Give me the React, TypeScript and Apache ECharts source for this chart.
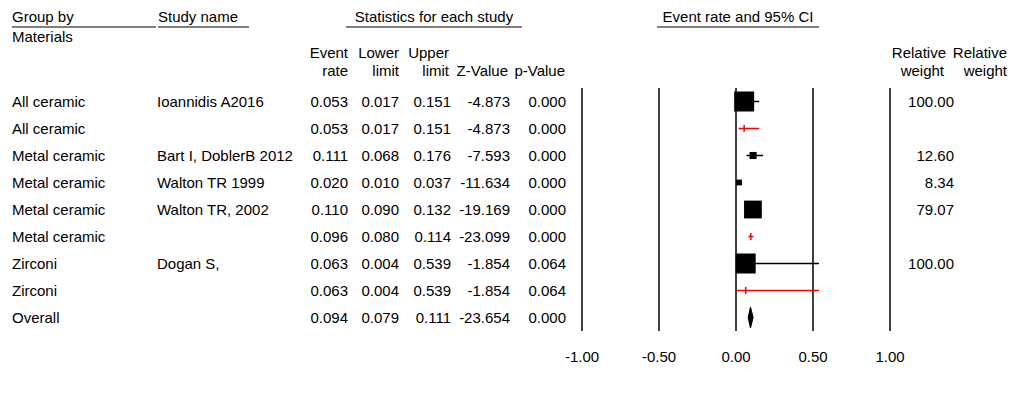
import React, { useEffect, useRef } from "react";
import * as echarts from "echarts";

// ---- data ----
const groups = ["All ceramic", "All ceramic", "Metal ceramic", "Metal ceramic", "Metal ceramic", "Metal ceramic", "Zirconi", "Zirconi", "Overall"];
const studies = ["Ioannidis A2016", "", "Bart I, DoblerB 2012", "Walton TR 1999", "Walton TR, 2002", "", "Dogan S,", "", ""];
const eventRate = [0.053, 0.053, 0.111, 0.02, 0.11, 0.096, 0.063, 0.063, 0.094];
const lowerLimit = [0.017, 0.017, 0.068, 0.01, 0.09, 0.08, 0.004, 0.004, 0.079];
const upperLimit = [0.151, 0.151, 0.176, 0.037, 0.132, 0.114, 0.539, 0.539, 0.111];
const zValue = [-4.873, -4.873, -7.593, -11.634, -19.169, -23.099, -1.854, -1.854, -23.654];
const pValue = [0.0, 0.0, 0.0, 0.0, 0.0, 0.0, 0.064, 0.064, 0.0];
const relWeight: (number | null)[] = [100.0, null, 12.6, 8.34, 79.07, null, 100.0, null, null];
const rowKind = ["study", "subtotal", "study", "study", "study", "subtotal", "study", "subtotal", "overall"];
const xTicks = { min: -1, max: 1, step: 0.5 };

const FONT = "'Liberation Sans', Arial, sans-serif";
const FS = 15;

const rowIds = groups.map((_, i) => "r" + i);

function colAxis(texts: string[], margin: number, align: string, position = "left") {
  return {
    type: "category",
    data: rowIds,
    inverse: true,
    position,
    gridIndex: 0,
    axisLine: { show: false },
    axisTick: { show: false },
    splitLine: { show: false },
    axisLabel: {
      interval: 0,
      margin,
      align,
      fontSize: FS,
      fontFamily: FONT,
      color: "#000",
      formatter: (_v: string, i: number) => texts[i],
    },
  };
}

export default function App() {
  const ref = useRef<HTMLDivElement>(null);
  useEffect(() => {
    if (!ref.current) return;
    const chart = echarts.init(ref.current, null, { renderer: "svg" });
    const gridLeft = 582;
    const gridRight = 890;
    const txt = (text: string, x: number, y: number, align = "left") => ({
      type: "text",
      x,
      y,
      style: { text, fontSize: FS, fontFamily: FONT, fill: "#000", align, verticalAlign: "middle" },
    });
    const uline = (x1: number, x2: number, y: number) => ({
      type: "line",
      shape: { x1, y1: y, x2, y2: y },
      style: { stroke: "#000", lineWidth: 1.2 },
    });
    const option: any = {
      animation: false,
      grid: { left: gridLeft, top: 88, width: gridRight - gridLeft, height: 243 },
      xAxis: {
        type: "value",
        min: xTicks.min,
        max: xTicks.max,
        interval: xTicks.step,
        axisLine: { show: false },
        axisTick: { show: false },
        splitLine: { show: true, lineStyle: { color: "#000", width: 1.5 } },
        axisLabel: {
          fontSize: FS,
          fontFamily: FONT,
          color: "#000",
          margin: 18,
          formatter: (v: number) => v.toFixed(2),
        },
      },
      yAxis: [
        colAxis(groups, gridLeft - 12, "left"),
        colAxis(studies, gridLeft - 157, "left"),
        colAxis(eventRate.map((v) => v.toFixed(3)), gridLeft - 348, "right"),
        colAxis(lowerLimit.map((v) => v.toFixed(3)), gridLeft - 399, "right"),
        colAxis(upperLimit.map((v) => v.toFixed(3)), gridLeft - 451, "right"),
        colAxis(zValue.map((v) => v.toFixed(3)), gridLeft - 510, "right"),
        colAxis(pValue.map((v) => v.toFixed(3)), gridLeft - 566, "right"),
        colAxis(relWeight.map((v) => (v == null ? "" : v.toFixed(2))), 954 - gridRight, "right", "right"),
      ],
      graphic: [
        txt("Group by", 12, 16),
        uline(12, 156, 27),
        txt("Materials", 12, 36),
        txt("Study name", 158, 16),
        uline(158, 249, 27),
        txt("Statistics for each study", 434, 16, "center"),
        uline(346, 522, 27),
        txt("Event", 348, 52, "right"),
        txt("rate", 348, 70, "right"),
        txt("Lower", 399, 52, "right"),
        txt("limit", 399, 70, "right"),
        txt("Upper", 449, 52, "right"),
        txt("limit", 449, 70, "right"),
        txt("Z-Value", 508, 70, "right"),
        txt("p-Value", 565, 70, "right"),
        txt("Event rate and 95% CI", 738, 16, "center"),
        uline(657, 819, 27),
        txt("Relative", 946, 52, "right"),
        txt("weight", 944, 70, "right"),
        txt("Relative", 1007, 52, "right"),
        txt("weight", 1007, 70, "right"),
      ],
      series: [
        {
          type: "custom",
          xAxisIndex: 0,
          yAxisIndex: 0,
          encode: { x: 0, y: 1 },
          data: rowIds.map((_, i) => [eventRate[i], i, lowerLimit[i], upperLimit[i], relWeight[i] ?? 0]),
          renderItem: (params: any, api: any) => {
            const i = params.dataIndex;
            const row = api.value(1);
            const c = api.coord([api.value(0), row]);
            const l = api.coord([api.value(2), row]);
            const u = api.coord([api.value(3), row]);
            const kind = rowKind[i];
            const y = c[1];
            if (kind === "study") {
              const s = 2 * Math.sqrt(api.value(4));
              return {
                type: "group",
                children: [
                  { type: "line", shape: { x1: l[0], y1: y, x2: u[0], y2: y }, style: { stroke: "#000", lineWidth: 1.5 } },
                  { type: "rect", shape: { x: c[0] - s / 2, y: y - s / 2, width: s, height: s }, style: { fill: "#000" } },
                ],
              };
            }
            if (kind === "subtotal") {
              return {
                type: "group",
                children: [
                  { type: "line", shape: { x1: l[0], y1: y, x2: u[0], y2: y }, style: { stroke: "#ff0000", lineWidth: 1.5 } },
                  { type: "line", shape: { x1: c[0], y1: y - 3.5, x2: c[0], y2: y + 3.5 }, style: { stroke: "#ff0000", lineWidth: 1.5 } },
                ],
              };
            }
            return {
              type: "polygon",
              shape: { points: [[l[0], y], [c[0], y - 10.5], [u[0], y], [c[0], y + 10.5]] },
              style: { fill: "#000", stroke: "#000", lineWidth: 1, lineJoin: "miter" },
            };
          },
        },
      ],
    };
    chart.setOption(option);
    return () => chart.dispose();
  }, []);
  return (
    <div
      ref={ref}
      style={{ position: "absolute", left: 0, top: 0, width: 1018, height: 398, background: "#fff" }}
    />
  );
}
